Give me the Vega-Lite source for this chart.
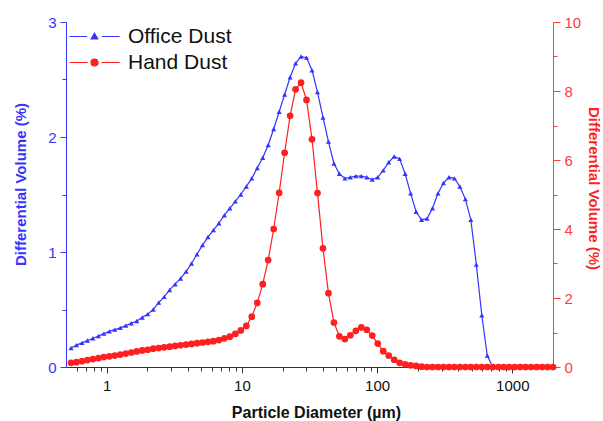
{
  "$schema": "https://vega.github.io/schema/vega-lite/v6.json",
  "width": 487,
  "height": 345,
  "autosize": {"type": "none"},
  "padding": {"left": 66, "top": 22, "right": 50, "bottom": 54},
  "background": "white",
  "config": {"view": {"stroke": null}, "font": "Liberation Sans", "axis": {"grid": false}},
  "datasets": {
    "office": [
      {"x":0.545,"y":0.165},{"x":0.598,"y":0.19},{"x":0.657,"y":0.21},{"x":0.721,"y":0.23},{"x":0.791,"y":0.25},{"x":0.869,"y":0.27},{"x":0.953,"y":0.29},{"x":1.047,"y":0.31},{"x":1.149,"y":0.325},{"x":1.261,"y":0.34},
      {"x":1.385,"y":0.36},{"x":1.52,"y":0.38},{"x":1.669,"y":0.40},{"x":1.832,"y":0.43},{"x":2.011,"y":0.46},{"x":2.208,"y":0.50},{"x":2.423,"y":0.56},{"x":2.66,"y":0.61},{"x":2.92,"y":0.67},{"x":3.206,"y":0.72},
      {"x":3.519,"y":0.77},{"x":3.863,"y":0.83},{"x":4.24,"y":0.90},{"x":4.655,"y":0.98},{"x":5.11,"y":1.06},{"x":5.61,"y":1.13},{"x":6.158,"y":1.19},{"x":6.76,"y":1.25},{"x":7.421,"y":1.32},{"x":8.147,"y":1.38},
      {"x":8.943,"y":1.44},{"x":9.817,"y":1.50},{"x":10.78,"y":1.57},{"x":11.83,"y":1.64},{"x":12.99,"y":1.73},{"x":14.26,"y":1.82},{"x":15.65,"y":1.93},{"x":17.18,"y":2.07},{"x":18.86,"y":2.22},{"x":20.7,"y":2.37},
      {"x":22.73,"y":2.52},{"x":24.95,"y":2.64},{"x":27.39,"y":2.70},{"x":30.07,"y":2.69},{"x":33.01,"y":2.58},{"x":36.24,"y":2.39},{"x":39.78,"y":2.17},{"x":43.67,"y":1.96},{"x":47.94,"y":1.77},{"x":52.62,"y":1.68},
      {"x":57.77,"y":1.64},{"x":63.41,"y":1.65},{"x":69.61,"y":1.66},{"x":76.42,"y":1.66},{"x":83.89,"y":1.65},{"x":92.09,"y":1.63},{"x":101.1,"y":1.65},{"x":111,"y":1.71},{"x":121.8,"y":1.78},{"x":133.7,"y":1.83},
      {"x":146.8,"y":1.81},{"x":161.2,"y":1.68},{"x":176.9,"y":1.51},{"x":194.2,"y":1.35},{"x":213.2,"y":1.28},{"x":234.1,"y":1.29},{"x":256.9,"y":1.38},{"x":282.1,"y":1.51},{"x":309.6,"y":1.60},{"x":339.9,"y":1.65},
      {"x":373.1,"y":1.64},{"x":409.6,"y":1.57},{"x":449.7,"y":1.46},{"x":493.6,"y":1.28},{"x":541.9,"y":0.89},{"x":594.9,"y":0.45},{"x":653,"y":0.10},{"x":716.9,"y":0.0}
    ],
    "hand": [
      {"x":0.545,"y":0.12},{"x":0.598,"y":0.14},{"x":0.657,"y":0.17},{"x":0.721,"y":0.20},{"x":0.791,"y":0.23},{"x":0.869,"y":0.26},{"x":0.953,"y":0.29},{"x":1.047,"y":0.31},{"x":1.149,"y":0.33},{"x":1.261,"y":0.36},
      {"x":1.385,"y":0.39},{"x":1.52,"y":0.42},{"x":1.669,"y":0.45},{"x":1.832,"y":0.48},{"x":2.011,"y":0.50},{"x":2.208,"y":0.53},{"x":2.423,"y":0.55},{"x":2.66,"y":0.57},{"x":2.92,"y":0.59},{"x":3.206,"y":0.61},
      {"x":3.519,"y":0.63},{"x":3.863,"y":0.65},{"x":4.24,"y":0.67},{"x":4.655,"y":0.69},{"x":5.11,"y":0.71},{"x":5.61,"y":0.73},{"x":6.158,"y":0.75},{"x":6.76,"y":0.78},{"x":7.421,"y":0.83},{"x":8.147,"y":0.88},
      {"x":8.943,"y":0.96},{"x":9.817,"y":1.06},{"x":10.78,"y":1.19},{"x":11.83,"y":1.46},{"x":12.99,"y":1.86},{"x":14.26,"y":2.40},{"x":15.65,"y":3.10},{"x":17.18,"y":4.00},{"x":18.86,"y":5.05},{"x":20.7,"y":6.21},
      {"x":22.73,"y":7.28},{"x":24.95,"y":8.05},{"x":27.39,"y":8.24},{"x":30.07,"y":7.74},{"x":33.01,"y":6.60},{"x":36.24,"y":5.04},{"x":39.78,"y":3.44},{"x":43.67,"y":2.14},{"x":47.94,"y":1.29},{"x":52.62,"y":0.89},
      {"x":57.77,"y":0.81},{"x":63.41,"y":0.92},{"x":69.61,"y":1.05},{"x":76.42,"y":1.15},{"x":83.89,"y":1.08},{"x":92.09,"y":0.91},{"x":101.1,"y":0.68},{"x":111,"y":0.46},{"x":121.8,"y":0.33},{"x":133.7,"y":0.21},
      {"x":146.8,"y":0.12},{"x":161.2,"y":0.08},{"x":176.9,"y":0.05},{"x":194.2,"y":0.03},{"x":213.2,"y":0.01},{"x":234.1,"y":0},{"x":256.9,"y":0},{"x":282.1,"y":0},{"x":309.6,"y":0},{"x":339.9,"y":0},
      {"x":373.1,"y":0},{"x":409.6,"y":0},{"x":449.7,"y":0},{"x":493.6,"y":0},{"x":541.9,"y":0},{"x":594.9,"y":0},{"x":653,"y":0},{"x":716.9,"y":0},{"x":786.9,"y":0},{"x":863.9,"y":0},
      {"x":948.3,"y":0},{"x":1041,"y":0},{"x":1143,"y":0},{"x":1255,"y":0},{"x":1377,"y":0},{"x":1512,"y":0},{"x":1660,"y":0},{"x":1822,"y":0},{"x":2000,"y":0}
    ]
  },
  "layer": [
    {
      "data": {"name": "office"},
      "mark": {"type": "line", "strokeWidth": 1.2},
      "encoding": {
        "x": {"field": "x", "type": "quantitative",
          "scale": {"type": "log", "domain": [0.5, 2000], "nice": false},
          "axis": {"orient": "bottom", "values": [1, 10, 100, 1000], "format": "d", "title": "Particle Diameter (µm)",
            "tickSize": 6, "domainColor": "#333333", "tickColor": "#333333", "labelColor": "#111111", "labelFontSize": 15, "labelPadding": 5,
            "titleFontSize": 16, "titleFontWeight": "bold", "titleColor": "#111111", "titleX": 250, "titleY": 45, "titleAlign": "center", "titleBaseline": "middle"}},
        "y": {"field": "y", "type": "quantitative",
          "scale": {"domain": [0, 3], "nice": false},
          "axis": {"orient": "left", "values": [0, 1, 2, 3], "tickSize": 6, "domainColor": "#3434ff", "tickColor": "#3434ff", "labelColor": "#3434ff", "labelFontSize": 15, "labelPadding": 4,
            "title": "Differential Volume (%)", "titleColor": "#3434ff", "titleFontSize": 15, "titleFontWeight": "bold",
            "titleX": -46, "titleY": 162, "titleAngle": -90, "titleAlign": "center", "titleBaseline": "middle"}},
        "color": {"datum": "Office Dust",
          "scale": {"domain": ["Office Dust", "Hand Dust"], "range": ["#3434ff", "#ff1f1f"]},
          "legend": {"orient": "none", "legendX": 18, "legendY": 4, "title": null, "symbolSize": 100,
            "labelFontSize": 21, "labelFont": "Liberation Sans", "labelColor": "#111111", "labelOffset": 23, "rowPadding": 4,
            "encode": {"symbols": {"update": {
              "shape": {"signal": "datum.label === 'Office Dust' ? 'M-5,0H-1.5M1.5,0H5M0,-0.65L0.65,0.5L-0.65,0.5Z' : 'M-5,0H-1.4M1.4,0H5M-0.7,0A0.7,0.7,0,1,0,0.7,0A0.7,0.7,0,1,0,-0.7,0Z'"},
              "fill": {"signal": "datum.label === 'Office Dust' ? '#3434ff' : '#ff1f1f'"},
              "stroke": {"signal": "datum.label === 'Office Dust' ? '#3434ff' : '#ff1f1f'"},
              "strokeWidth": {"value": 1.2},
              "opacity": {"value": 1}}}}}}
      }
    },
    {
      "data": {"name": "office"},
      "mark": {"type": "point", "shape": "triangle-up", "filled": true, "size": 26, "opacity": 1},
      "encoding": {
        "x": {"field": "x", "type": "quantitative",
          "scale": {"type": "log", "domain": [0.5, 2000], "nice": false},
          "axis": {"orient": "bottom", "values": [0.6,0.7,0.8,0.9,2,3,4,5,6,7,8,9,20,30,40,50,60,70,80,90,200,300,400,500,600,700,800,900], "labels": false, "domain": false, "tickSize": 4, "tickColor": "#333333", "title": null}},
        "y": {"field": "y", "type": "quantitative",
          "scale": {"domain": [0, 3], "nice": false},
          "axis": {"orient": "left", "values": [0.5, 1.5, 2.5], "labels": false, "domain": false, "tickSize": 4, "tickColor": "#3434ff", "title": null}},
        "color": {"datum": "Office Dust"}
      }
    },
    {
      "data": {"name": "hand"},
      "mark": {"type": "line", "strokeWidth": 1.2},
      "encoding": {
        "x": {"field": "x", "type": "quantitative",
          "scale": {"type": "log", "domain": [0.5, 2000], "nice": false}, "axis": null},
        "y": {"field": "y", "type": "quantitative",
          "scale": {"domain": [0, 10], "nice": false},
          "axis": {"orient": "right", "values": [0, 2, 4, 6, 8, 10], "tickSize": 7, "domainColor": "#ff3b3b", "tickColor": "#ff3b3b", "labelColor": "#ff3b3b", "labelFontSize": 15, "labelPadding": 4,
            "title": "Differential Volume (%)", "titleColor": "#ff1f1f", "titleFontSize": 15, "titleFontWeight": "bold",
            "titleX": 40, "titleY": 166, "titleAngle": 90, "titleAlign": "center", "titleBaseline": "middle"}},
        "color": {"datum": "Hand Dust"}
      }
    },
    {
      "data": {"name": "hand"},
      "mark": {"type": "point", "shape": "circle", "filled": true, "size": 45, "opacity": 1},
      "encoding": {
        "x": {"field": "x", "type": "quantitative",
          "scale": {"type": "log", "domain": [0.5, 2000], "nice": false}, "axis": null},
        "y": {"field": "y", "type": "quantitative",
          "scale": {"domain": [0, 10], "nice": false},
          "axis": {"orient": "right", "values": [1, 3, 5, 7, 9], "labels": false, "domain": false, "tickSize": 4, "tickColor": "#ff3b3b", "title": null}},
        "color": {"datum": "Hand Dust"}
      }
    }
  ],
  "resolve": {"scale": {"x": "independent", "y": "independent"}, "axis": {"x": "independent", "y": "independent"}}
}
